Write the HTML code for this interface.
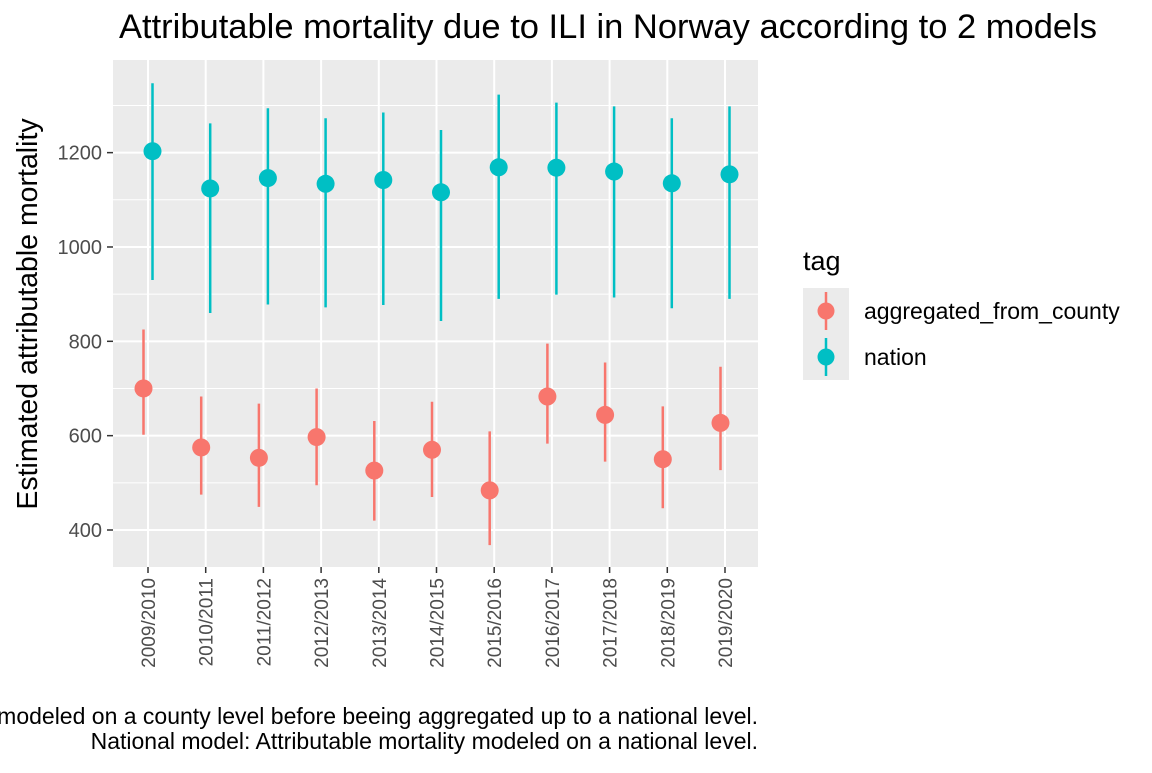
<!DOCTYPE html>
<html><head><meta charset="utf-8"><style>
body{margin:0;background:#fff;}
svg text{font-family:"Liberation Sans",sans-serif;}
</style></head><body>
<svg id="c" width="1152" height="768" xmlns="http://www.w3.org/2000/svg">
<text x="608" y="38" font-size="34.5" text-anchor="middle" fill="#000">Attributable mortality due to ILI in Norway according to 2 models</text>
<rect x="113" y="60" width="645" height="507" fill="#ebebeb"/>
<g id="grid"></g>
<g id="marks"></g>
<g id="axes"></g>
<text transform="translate(37,314) rotate(-90)" font-size="28.5" text-anchor="middle" fill="#000">Estimated attributable mortality</text>
<text x="803" y="270" font-size="27" fill="#000">tag</text>
<rect x="803" y="288" width="46" height="92" fill="#ebebeb"/>
<g>
<line x1="826" y1="292" x2="826" y2="330" stroke="#f8766d" stroke-width="2.5"/>
<circle cx="826" cy="311" r="8.5" fill="#f8766d"/>
<text x="864" y="319" font-size="23" fill="#000">aggregated_from_county</text></g>
<g>
<line x1="826" y1="338" x2="826" y2="376" stroke="#00bfc4" stroke-width="2.5"/>
<circle cx="826" cy="357" r="8.5" fill="#00bfc4"/>
<text x="864" y="365" font-size="23" fill="#000">nation</text></g>
<text x="758" y="724" font-size="23" text-anchor="end" fill="#000">Aggregated model: Attributable mortality modeled on a county level before beeing aggregated up to a national level.</text>
<text x="758" y="749" font-size="23" text-anchor="end" fill="#000">National model: Attributable mortality modeled on a national level.</text>
</svg>
<script>
const categories=["2009/2010","2010/2011","2011/2012","2012/2013","2013/2014","2014/2015","2015/2016","2016/2017","2017/2018","2018/2019","2019/2020"];
const aggEst=[700,575,553,597,526,570,484,683,644,550,627];
const aggLow=[602,475,449,495,420,470,368,583,545,446,527];
const aggHigh=[825,683,668,700,631,672,609,795,755,662,746];
const natEst=[1203,1124,1146,1134,1142,1116,1169,1168,1160,1135,1154];
const natLow=[930,860,878,872,877,843,890,899,893,870,890];
const natHigh=[1347,1262,1294,1273,1285,1248,1323,1306,1298,1273,1298];
const yTicks=[400,600,800,1000,1200];
const yMinor=[500,700,900,1100,1300];
const NS="http://www.w3.org/2000/svg";
function y(v){return 530-(v-400)*0.4717;}
function x(i){return 148+i*57.7;}
function mk(tag,attrs,parent){const e=document.createElementNS(NS,tag);for(const k in attrs)e.setAttribute(k,attrs[k]);document.getElementById(parent).appendChild(e);return e;}
yMinor.forEach(v=>{const e=mk('line',{x1:113,x2:758,y1:y(v),y2:y(v),stroke:'#fff','stroke-width':1},'grid');

});
yTicks.forEach(v=>{const e=mk('line',{x1:113,x2:758,y1:y(v),y2:y(v),stroke:'#fff','stroke-width':2},'grid');


const t=mk('line',{x1:107,x2:113,y1:y(v),y2:y(v),stroke:'#333','stroke-width':1.5},'axes');


const l=mk('text',{x:102,y:y(v)+7,'font-size':20,'text-anchor':'end',fill:'#4d4d4d'},'axes');l.textContent=v;

});
categories.forEach((c,i)=>{const e=mk('line',{x1:x(i),x2:x(i),y1:60,y2:567,stroke:'#fff','stroke-width':2},'grid');


const t=mk('line',{x1:x(i),x2:x(i),y1:567,y2:573,stroke:'#333','stroke-width':1.5},'axes');


const l=mk('text',{transform:`translate(${x(i)+7},578) rotate(-90)`,'font-size':19,'text-anchor':'end',fill:'#4d4d4d'},'axes');l.textContent=c;

});
function series(est,lo,hi,off,col,name){est.forEach((v,i)=>{const cx=x(i)+off;
const e=mk('line',{x1:cx,x2:cx,y1:y(lo[i]),y2:y(hi[i]),stroke:col,'stroke-width':2.5},'marks');


const p=mk('circle',{cx:cx,cy:y(v),r:9,fill:col},'marks');

});}
series(aggEst,aggLow,aggHigh,-4.5,'#f8766d','aggregated');
series(natEst,natLow,natHigh,4.5,'#00bfc4','nation');
</script>
</body></html>
